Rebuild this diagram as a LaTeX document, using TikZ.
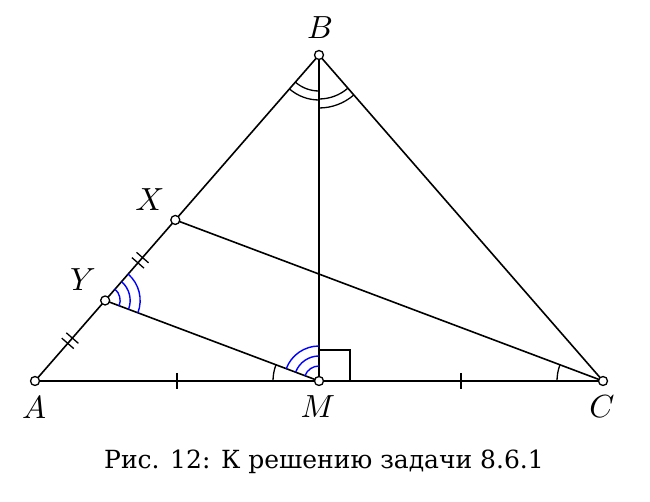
\documentclass[tikz,border=0pt]{standalone}
\usepackage{graphicx}
\usepackage{fontspec}
\newfontfamily\capfont{DejaVu Serif}
\usetikzlibrary{angles,calc}
\newcommand{\lbl}[1]{\scalebox{3.2}{$#1$}}
\begin{document}
\begin{tikzpicture}[x=1pt,y=1pt,
  seg/.style={line width=1.6pt},
  mk/.style={line width=1.3pt},
  bmk/.style={line width=1.4pt, draw=blue},
  pt/.style={circle, draw, fill=white, line width=1.3pt, inner sep=0pt, minimum size=9pt},
  lab/.style={inner sep=0pt},
  tick/.style={line width=1.3pt}]
\useasboundingbox (0,0) rectangle (650,502);
\coordinate (A) at (35,121);
\coordinate (B) at (319,447);
\coordinate (C) at (603,121);
\coordinate (M) at (319,121);
\coordinate (X) at ($(A)!0.494!(B)$);
\coordinate (Y) at ($(A)!0.247!(B)$);
% sides
\draw[seg] (A) -- (B) -- (C) -- (A);
\draw[seg] (B) -- (M);
\draw[seg] (X) -- (C);
\draw[seg] (Y) -- (M);
% right angle
\draw[mk] ($(M)+(0,31)$) -- ($(M)+(31,31)$) -- ($(M)+(31,0)$);
% angle marks
\pic[draw, mk, angle radius=46pt] {angle=Y--M--A};
\pic[draw, mk, angle radius=46pt] {angle=X--C--A};
\pic[draw, mk, angle radius=36pt] {angle=A--B--M};
\pic[draw, mk, angle radius=45pt] {angle=A--B--M};
\pic[draw, mk, angle radius=44pt] {angle=M--B--C};
\pic[draw, mk, angle radius=53pt] {angle=M--B--C};
\foreach \r in {15,25,35}{
  \pic[bmk, angle radius=\r pt] {angle=B--M--Y};
  \pic[bmk, angle radius=\r pt] {angle=M--Y--X};
}
% ticks
\coordinate (m1) at ($(A)!0.5!(M)$);
\coordinate (m2) at ($(M)!0.5!(C)$);
\draw[tick] ($(m1)+(0,8)$) -- ($(m1)+(0,-8)$);
\draw[tick] ($(m2)+(0,8)$) -- ($(m2)+(0,-8)$);
\coordinate (m3) at ($(A)!0.5!(Y)$);
\coordinate (m4) at ($(Y)!0.5!(X)$);
\foreach \mm in {m3,m4}{
  \foreach \s in {-3.5,3.5}{
    \coordinate (q) at ($(\mm)!\s pt!(B)$);
    \draw[tick] ($(q)!8pt!90:(B)$) -- ($(q)!8pt!-90:(B)$);
  }
}
% points
\node[pt] (pA) at (A) {};
\node[pt] (pB) at (B) {};
\node[pt] (pC) at (C) {};
\node[pt] (pM) at (M) {};
\node[pt] (pX) at (X) {};
\node[pt] (pY) at (Y) {};
% labels
\node[lab] (lB) at (320,474) {\lbl{B}};
\node[lab] (lX) at (150,302) {\lbl{X}};
\node[lab] (lY) at (83,222) {\lbl{Y}};
\node[lab] (lA) at (34,94) {\lbl{A}};
\node[lab] (lM) at (318,95) {\lbl{M}};
\node[lab] (lC) at (602,95) {\lbl{C}};
\node[font=\capfont\fontsize{25}{30}\selectfont] (cap) at (324,40) {Рис. 12: К решению задачи 8.6.1};
\end{tikzpicture}
\end{document}
